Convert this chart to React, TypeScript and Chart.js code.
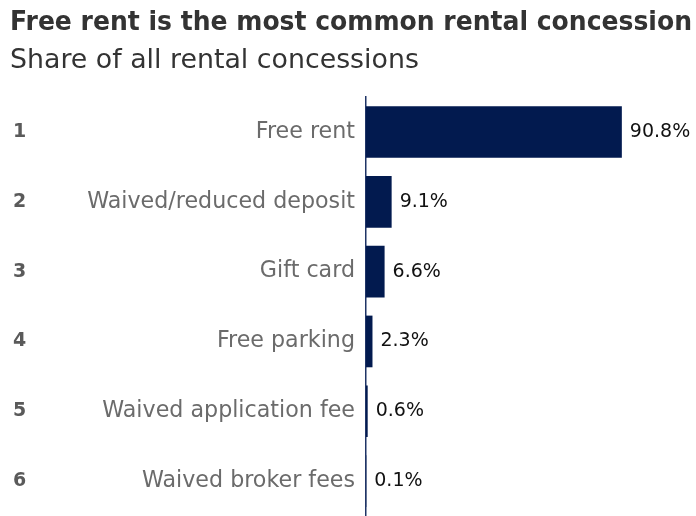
import React, { useRef, useEffect } from "react";
import { Chart, registerables } from "chart.js";

Chart.register(...registerables);

const categories = [
  "Free rent",
  "Waived/reduced deposit",
  "Gift card",
  "Free parking",
  "Waived application fee",
  "Waived broker fees",
];
const ranks = ["1", "2", "3", "4", "5", "6"];
const shares = [90.8, 9.1, 6.6, 2.3, 0.6, 0.1];

const FONT = "'DejaVu Sans', Verdana, sans-serif";
const NAVY = "#021a4f";

// rank numbers on the far left and % labels at bar ends
const extraText = {
  id: "extraText",
  afterDatasetsDraw(chart: any) {
    const ctx = chart.ctx;
    const meta = chart.getDatasetMeta(0);
    ctx.save();
    ctx.textBaseline = "middle";
    meta.data.forEach((bar: any, i: number) => {
      ctx.font = `bold 19px ${FONT}`;
      ctx.fillStyle = "#5a5a5a";
      ctx.textAlign = "left";
      ctx.fillText(ranks[i], 13, bar.y);
      ctx.font = `19px ${FONT}`;
      ctx.fillStyle = "#111111";
      ctx.fillText(shares[i].toFixed(1) + "%", bar.x + 8, bar.y);
    });
    ctx.restore();
  },
};

const App: React.FC = () => {
  const chartRef = useRef<HTMLCanvasElement>(null);

  useEffect(() => {
    document.body.style.margin = "0";
    if (!chartRef.current) return;
    const ctx = chartRef.current.getContext("2d");
    if (!ctx) return;
    const chart = new Chart(ctx, {
      type: "bar",
      data: {
        labels: categories,
        datasets: [
          {
            data: shares,
            backgroundColor: NAVY,
            borderWidth: 0,
            categoryPercentage: 1,
            barPercentage: 0.74,
          },
        ],
      },
      options: {
        indexAxis: "y",
        animation: false,
        responsive: true,
        maintainAspectRatio: false,
        layout: { padding: { left: 10, right: 4, top: 0, bottom: 0 } },
        scales: {
          x: { display: false, min: 0, max: 115.7 },
          y: {
            grid: { display: false, drawTicks: false },
            border: { display: true, color: "#1f3466", width: 1.5 },
            ticks: {
              color: "#6b6b6b",
              font: { family: FONT, size: 22.2 },
              padding: 11,
            },
            afterFit: (s: any) => {
              s.width = 356;
              s.paddingTop = 0;
              s.paddingBottom = 0;
            },
          },
        },
        plugins: {
          legend: { display: false },
          tooltip: { enabled: false },
          title: {
            display: true,
            text: "Free rent is the most common rental concession",
            align: "start",
            color: "#333333",
            font: { family: FONT, size: 26.6, weight: "bold" },
            padding: { top: 7, bottom: 6 },
          },
          subtitle: {
            display: true,
            text: "Share of all rental concessions",
            align: "start",
            color: "#333333",
            font: { family: FONT, size: 26.8 },
            padding: { top: 0, bottom: 20 },
          },
        },
      },
      plugins: [extraText],
    });
    return () => chart.destroy();
  }, []);

  return (
    <div style={{ position: "relative", width: 696, height: 516 }}>
      <canvas ref={chartRef} />
    </div>
  );
};

export default App;
